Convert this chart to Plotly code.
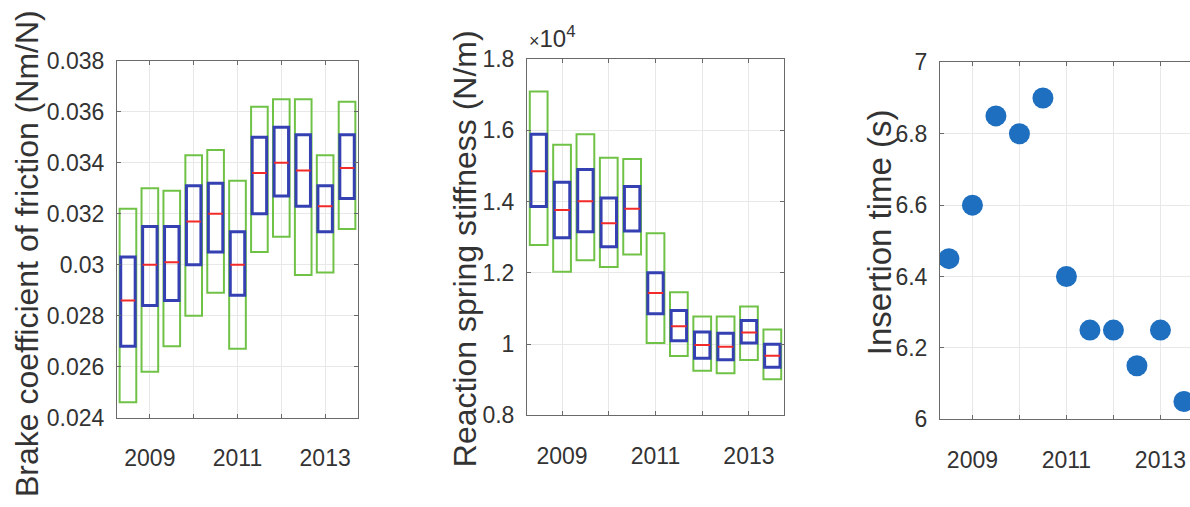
import plotly.graph_objects as go

# ---------------- data ----------------
periods = [2008.5, 2009.0, 2009.5, 2010.0, 2010.5, 2011.0, 2011.5, 2012.0, 2012.5, 2013.0, 2013.5]

# Panel 1: brake coefficient of friction (Nm/N)
brake_outer_hi = [0.0322, 0.0330, 0.0329, 0.0343, 0.0345, 0.0333, 0.0362, 0.0365, 0.0365, 0.0343, 0.0364]
brake_outer_lo = [0.0246, 0.0258, 0.0268, 0.0280, 0.0289, 0.0267, 0.0305, 0.0311, 0.0296, 0.0297, 0.0314]
brake_q3 = [0.0303, 0.0315, 0.0315, 0.0331, 0.0332, 0.0313, 0.0350, 0.0354, 0.0351, 0.0331, 0.0351]
brake_q1 = [0.0268, 0.0284, 0.0286, 0.0300, 0.0305, 0.0288, 0.0320, 0.0327, 0.0323, 0.0313, 0.0326]
brake_median = [0.0286, 0.0300, 0.0301, 0.0317, 0.0320, 0.0300, 0.0336, 0.0340, 0.0337, 0.0323, 0.0338]

# Panel 2: reaction spring stiffness (N/m)
spring_outer_hi = [17090, 15590, 15890, 15230, 15190, 13110, 11450, 10770, 10770, 11050, 10410]
spring_outer_lo = [12780, 12030, 12350, 12160, 12510, 10030, 9660, 9250, 9180, 9550, 9010]
spring_q3 = [15890, 14540, 14900, 14100, 14420, 12000, 10940, 10340, 10300, 10660, 9990]
spring_q1 = [13860, 12980, 13150, 12730, 13170, 10850, 10090, 9600, 9560, 10030, 9350]
spring_median = [14850, 13760, 14010, 13390, 13800, 11430, 10500, 9970, 9920, 10320, 9670]

# Panel 3: insertion time (s)
insertion_time = [6.45, 6.60, 6.85, 6.80, 6.90, 6.40, 6.25, 6.25, 6.15, 6.25, 6.05]

# tick labels
year_ticks = [2009, 2011, 2013]
year_labels = ["2009", "2011", "2013"]
year_minor = [2010, 2012]
brake_ticks = [0.024, 0.026, 0.028, 0.030, 0.032, 0.034, 0.036, 0.038]
brake_labels = ["0.024", "0.026", "0.028", "0.03", "0.032", "0.034", "0.036", "0.038"]
spring_ticks = [8000, 10000, 12000, 14000, 16000, 18000]
spring_labels = ["0.8", "1", "1.2", "1.4", "1.6", "1.8"]
time_ticks = [6.0, 6.2, 6.4, 6.6, 6.8, 7.0]
time_labels = ["6", "6.2", "6.4", "6.6", "6.8", "7"]

# ---------------- style ----------------
W, H = 1190, 507
GREEN = "#70c247"
BLUE = "#3541b2"
RED = "#f22a2a"
DOT = "#1f6fc0"
TXT = "#333333"
AXC = "#6a6a6a"
GRID = "#e8e8e8"
FONT = "Liberation Sans, Arial, Helvetica, sans-serif"
OUTER_W = 0.38
INNER_W = 0.33


def px_x(a, b):
    return [a / W, b / W]


def px_y(top, bottom):
    return [1 - bottom / H, 1 - top / H]


fig = go.Figure()


def add_boxes(xa, ya, hi, lo, q3, q1, med):
    fig.add_trace(go.Bar(
        x=periods, y=[h - l for h, l in zip(hi, lo)], base=lo, width=OUTER_W,
        marker=dict(color="rgba(0,0,0,0)", line=dict(color=GREEN, width=2)),
        xaxis=xa, yaxis=ya, showlegend=False, hoverinfo="skip"))
    fig.add_trace(go.Bar(
        x=periods, y=[h - l for h, l in zip(q3, q1)], base=q1, width=INNER_W,
        marker=dict(color="rgba(0,0,0,0)", line=dict(color=BLUE, width=3)),
        xaxis=xa, yaxis=ya, showlegend=False, hoverinfo="skip"))
    mx, my = [], []
    for c, m in zip(periods, med):
        mx += [c - INNER_W / 2, c + INNER_W / 2, None]
        my += [m, m, None]
    fig.add_trace(go.Scatter(
        x=mx, y=my, mode="lines", line=dict(color=RED, width=2),
        xaxis=xa, yaxis=ya, showlegend=False, hoverinfo="skip"))


add_boxes("x", "y", brake_outer_hi, brake_outer_lo, brake_q3, brake_q1, brake_median)
add_boxes("x2", "y2", spring_outer_hi, spring_outer_lo, spring_q3, spring_q1, spring_median)

fig.add_trace(go.Scatter(
    x=periods, y=insertion_time, mode="markers",
    marker=dict(color=DOT, size=21, line=dict(width=0)),
    xaxis="x3", yaxis="y3", showlegend=False))

tickfont = dict(family=FONT, size=23, color=TXT)


def xaxis(domain, rng, anchor, mirror="ticks"):
    return dict(domain=domain, range=rng, anchor=anchor, tickvals=year_ticks, ticktext=year_labels,
                ticks="inside", ticklen=4, tickcolor=AXC, showline=True, linecolor=AXC, linewidth=1,
                mirror=mirror, showgrid=True, gridcolor=GRID, gridwidth=1, zeroline=False,
                minor=dict(tickvals=year_minor, ticks="inside", ticklen=4, tickcolor=AXC,
                           showgrid=True, gridcolor=GRID, gridwidth=1),
                tickfont=tickfont, ticklabelstandoff=20)


def yaxis(domain, rng, anchor, vals, labels, mirror="ticks"):
    return dict(domain=domain, range=rng, anchor=anchor, tickvals=vals, ticktext=labels,
                ticks="inside", ticklen=4, tickcolor=AXC, showline=True, linecolor=AXC, linewidth=1,
                mirror=mirror, showgrid=True, gridcolor=GRID, gridwidth=1, zeroline=False,
                tickfont=tickfont, ticklabelstandoff=7)


fig.update_layout(
    width=W, height=H, margin=dict(l=0, r=0, t=0, b=0),
    paper_bgcolor="white", plot_bgcolor="white", barmode="overlay",
    font=dict(family=FONT, color=TXT),
    xaxis=xaxis(px_x(117, 358), [2008.25, 2013.75], "y"),
    yaxis=yaxis(px_y(50.5, 426.5), [0.024, 0.038], "x", brake_ticks, brake_labels),
    xaxis2=xaxis(px_x(527, 784), [2008.25, 2013.75], "y2"),
    yaxis2=yaxis(px_y(48.5, 424), [8000, 18000], "x2", spring_ticks, spring_labels),
    xaxis3=xaxis([940 / W, 1.0], [2008.31, 2008.31 + 250 / 47.0], "y3"),
    yaxis3=yaxis(px_y(52, 428.3), [6.0, 7.0], "x3", time_ticks, time_labels, mirror=False),
)

titles = [
    ("Brake coefficient of friction (Nm/N)", 27, 254, 32),
    ("Reaction spring stiffness (N/m)", 465, 249, 32),
    ("Insertion time (s)", 879, 231, 33),
]
for text, cx, cy, fs in titles:
    fig.add_annotation(text=text, x=cx / W, y=1 - cy / H, xref="paper", yref="paper",
                       textangle=-90, showarrow=False, xanchor="center", yanchor="middle",
                       font=dict(family=FONT, size=fs, color=TXT))

fig.add_annotation(text="<span style='font-size:18px'>×</span>10<sup>4</sup>",
                   x=527 / W, y=1 - 43 / H, xref="paper", yref="paper", showarrow=False,
                   xanchor="left", yanchor="bottom", font=dict(family=FONT, size=24, color=TXT))

fig.write_html("out.html")
